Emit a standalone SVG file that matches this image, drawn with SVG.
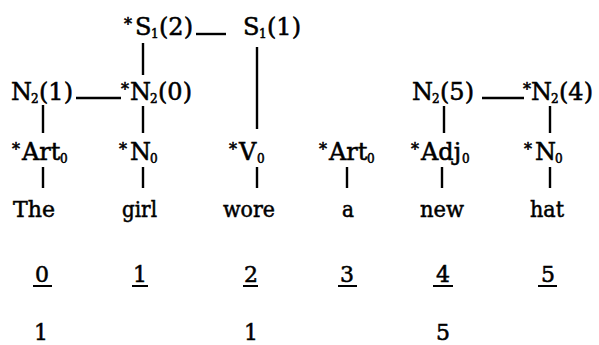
<svg xmlns="http://www.w3.org/2000/svg" width="599" height="345" viewBox="0 0 599 345">
<style>
  text { font-family: "DejaVu Serif", "Liberation Serif", serif; fill: #000; stroke: #000; stroke-width: 0.55; }
  .lab { font-size: 24px; }
  .st { font-size: 16px; }
  .sub { font-size: 12px; }
  .word { font-size: 23px; }
  .num { font-size: 22px; }
  .conn line { stroke: #000; stroke-width: 2.4; stroke-linecap: butt; }
  .ul { stroke: #000; stroke-width: 2; }
</style>
<rect width="599" height="345" fill="#fff"/>

<g id="connectors" class="conn">
  <line x1="196" y1="34" x2="226" y2="34"/>
  <line x1="76" y1="98" x2="121" y2="98"/>
  <line x1="482" y1="98" x2="524" y2="98"/>
  <line x1="143" y1="43" x2="143" y2="75"/>
  <line x1="257" y1="47" x2="257" y2="129"/>
  <line x1="43" y1="105" x2="43" y2="133"/>
  <line x1="143" y1="106" x2="143" y2="133"/>
  <line x1="444" y1="106" x2="444" y2="133"/>
  <line x1="550" y1="106" x2="550" y2="133"/>
  <line x1="43" y1="167" x2="43" y2="188"/>
  <line x1="143" y1="167" x2="143" y2="188"/>
  <line x1="257" y1="167" x2="257" y2="188"/>
  <line x1="347" y1="167" x2="347" y2="188"/>
  <line x1="442" y1="167" x2="442" y2="188"/>
  <line x1="550" y1="167" x2="550" y2="188"/>
</g>

<g id="S1_2"><text class="lab" y="35"><tspan class="st" x="124" dy="-5">*</tspan><tspan x="135" dy="5">S</tspan><tspan class="sub" x="151" dy="3">1</tspan><tspan x="159" dy="-3">(2)</tspan></text></g>
<g id="S1_1"><text class="lab" y="35"><tspan x="243">S</tspan><tspan class="sub" x="259" dy="3">1</tspan><tspan x="267" dy="-3">(1)</tspan></text></g>

<g id="N2_1"><text class="lab" y="100"><tspan x="11">N</tspan><tspan class="sub" x="31" dy="3">2</tspan><tspan x="39" dy="-3">(1)</tspan></text></g>
<g id="N2_0"><text class="lab" y="100"><tspan class="st" x="121" dy="-5">*</tspan><tspan x="130" dy="5">N</tspan><tspan class="sub" x="150" dy="3">2</tspan><tspan x="158" dy="-3">(0)</tspan></text></g>
<g id="N2_5"><text class="lab" y="100"><tspan x="412">N</tspan><tspan class="sub" x="432" dy="3">2</tspan><tspan x="440" dy="-3">(5)</tspan></text></g>
<g id="N2_4"><text class="lab" y="100"><tspan class="st" x="523" dy="-5">*</tspan><tspan x="531" dy="5">N</tspan><tspan class="sub" x="551" dy="3">2</tspan><tspan x="559" dy="-3">(4)</tspan></text></g>

<g id="Art0_1"><text class="lab" y="160"><tspan class="st" x="12" dy="-5">*</tspan><tspan x="22" dy="5">Art</tspan><tspan class="sub" x="60" dy="3">0</tspan></text></g>
<g id="N0_1"><text class="lab" y="160"><tspan class="st" x="119" dy="-5">*</tspan><tspan x="130" dy="5">N</tspan><tspan class="sub" x="150" dy="3">0</tspan></text></g>
<g id="V0"><text class="lab" y="160"><tspan class="st" x="229" dy="-5">*</tspan><tspan x="239" dy="5">V</tspan><tspan class="sub" x="257" dy="3">0</tspan></text></g>
<g id="Art0_2"><text class="lab" y="160"><tspan class="st" x="319" dy="-5">*</tspan><tspan x="329" dy="5">Art</tspan><tspan class="sub" x="367" dy="3">0</tspan></text></g>
<g id="Adj0"><text class="lab" y="160"><tspan class="st" x="411" dy="-5">*</tspan><tspan x="421" dy="5">Adj</tspan><tspan class="sub" x="462" dy="3">0</tspan></text></g>
<g id="N0_2"><text class="lab" y="160"><tspan class="st" x="524" dy="-5">*</tspan><tspan x="535" dy="5">N</tspan><tspan class="sub" x="555" dy="3">0</tspan></text></g>

<g id="w_The"><text class="word" x="13" y="217" textLength="42" lengthAdjust="spacingAndGlyphs">The</text></g>
<g id="w_girl"><text class="word" x="122" y="217" textLength="35" lengthAdjust="spacingAndGlyphs">girl</text></g>
<g id="w_wore"><text class="word" x="223" y="217" textLength="52" lengthAdjust="spacingAndGlyphs">wore</text></g>
<g id="w_a"><text class="word" x="342" y="217" textLength="12" lengthAdjust="spacingAndGlyphs">a</text></g>
<g id="w_new"><text class="word" x="420" y="217" textLength="44" lengthAdjust="spacingAndGlyphs">new</text></g>
<g id="w_hat"><text class="word" x="530" y="217" textLength="34" lengthAdjust="spacingAndGlyphs">hat</text></g>

<g id="i0"><text class="num" x="42" y="282" text-anchor="middle">0</text><line class="ul" x1="33" y1="286" x2="52" y2="286"/></g>
<g id="i1"><text class="num" x="140" y="282" text-anchor="middle">1</text><line class="ul" x1="132" y1="286" x2="148" y2="286"/></g>
<g id="i2"><text class="num" x="251" y="282" text-anchor="middle">2</text><line class="ul" x1="243" y1="286" x2="258" y2="286"/></g>
<g id="i3"><text class="num" x="347" y="282" text-anchor="middle">3</text><line class="ul" x1="338" y1="286" x2="357" y2="286"/></g>
<g id="i4"><text class="num" x="443" y="282" text-anchor="middle">4</text><line class="ul" x1="433" y1="286" x2="453" y2="286"/></g>
<g id="i5"><text class="num" x="548" y="282" text-anchor="middle">5</text><line class="ul" x1="538" y1="286" x2="557" y2="286"/></g>

<g id="b0"><text class="num" x="41" y="340" text-anchor="middle">1</text></g>
<g id="b2"><text class="num" x="251" y="340" text-anchor="middle">1</text></g>
<g id="b4"><text class="num" x="443" y="340" text-anchor="middle">5</text></g>
</svg>
